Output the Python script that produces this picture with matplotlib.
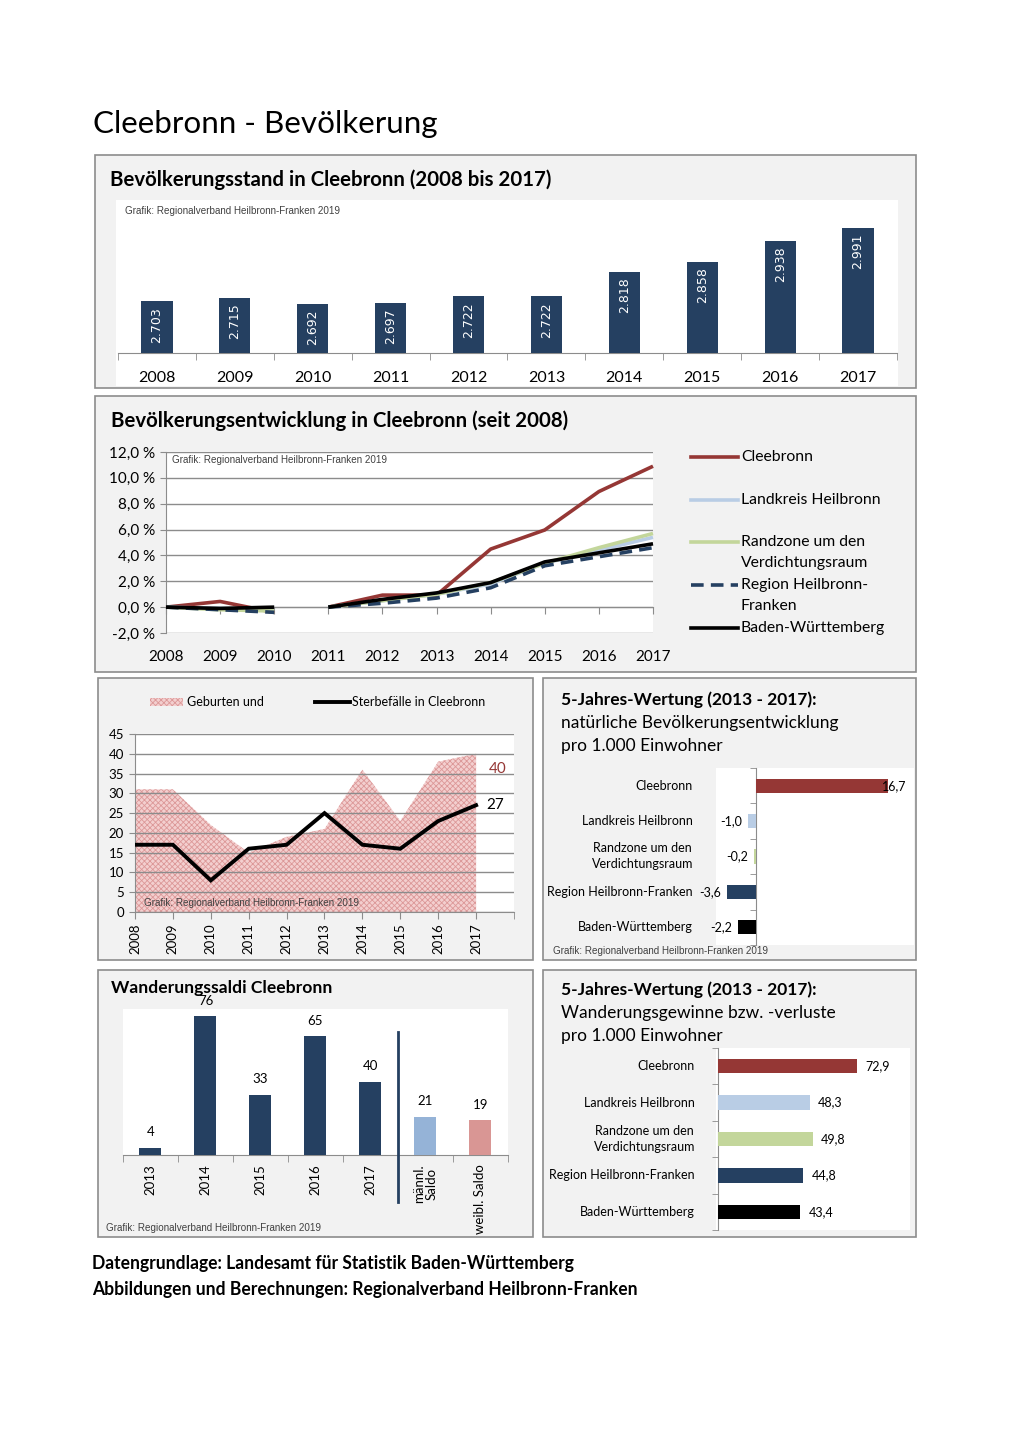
import matplotlib
matplotlib.use("Agg")
import matplotlib.pyplot as plt
import numpy as np
from matplotlib.patches import Rectangle
from matplotlib.transforms import blended_transform_factory as btf

# ---------------- data ----------------
years = [2008, 2009, 2010, 2011, 2012, 2013, 2014, 2015, 2016, 2017]
population = [2703, 2715, 2692, 2697, 2722, 2722, 2818, 2858, 2938, 2991]
pop_labels = ["2.703", "2.715", "2.692", "2.697", "2.722", "2.722", "2.818", "2.858", "2.938", "2.991"]

# development in % (2008-2010 relative to 2008, 2011-2017 relative to 2011)
dev_names = ["Cleebronn", "Landkreis Heilbronn", "Randzone um den\nVerdichtungsraum",
             "Region Heilbronn-\nFranken", "Baden-Württemberg"]
dev_cleebronn = [0.0, 0.44, -0.41, 0.0, 0.93, 0.93, 4.49, 5.97, 8.94, 10.90]
dev_landkreis = [0.0, -0.1, -0.2, 0.0, 0.5, 1.0, 1.8, 3.4, 4.4, 5.4]
dev_randzone = [0.0, -0.2, -0.3, 0.0, 0.5, 1.0, 1.9, 3.4, 4.6, 5.7]
dev_region = [0.0, -0.2, -0.4, 0.0, 0.3, 0.7, 1.5, 3.2, 3.9, 4.6]
dev_bw = [0.0, -0.1, 0.0, 0.0, 0.6, 1.1, 1.9, 3.5, 4.2, 4.9]

births = [31, 31, 22, 15, 19, 21, 36, 23, 38, 40]
deaths = [17, 17, 8, 16, 17, 25, 17, 16, 23, 27]

regions = ["Cleebronn", "Landkreis Heilbronn", "Randzone um den\nVerdichtungsraum",
           "Region Heilbronn-Franken", "Baden-Württemberg"]
natural_5y = [16.7, -1.0, -0.2, -3.6, -2.2]
migration_5y = [72.9, 48.3, 49.8, 44.8, 43.4]

wand_cats = ["2013", "2014", "2015", "2016", "2017", "männl.\nSaldo", "weibl. Saldo"]
wand_vals = [4, 76, 33, 65, 40, 21, 19]

# ---------------- style ----------------
RED = "#953735"
LBLUE = "#b9cde5"
GREEN = "#c3d69b"
NAVY = "#254061"
BLACK = "#000000"
MALE = "#95b3d7"
FEMALE = "#d99694"
GRID = "#8c8c8c"
PANEL = "#f2f2f2"
FONT = ["Lato", "DejaVu Sans"]
ARIAL = ["Liberation Sans", "DejaVu Sans"]
PINK_FACE = "#f3cfcf"
PINK_HATCH = "#dc9898"

W, H = 1020, 1443
fig = plt.figure(figsize=(W / 100, H / 100), dpi=100)
fig.patch.set_facecolor("white")
plt.rcParams['font.family'] = FONT
plt.rcParams['hatch.linewidth'] = 0.6


def ax_px(x0, y0, x1, y1, bg="white"):
    a = fig.add_axes([x0 / W, 1 - y1 / H, (x1 - x0) / W, (y1 - y0) / H])
    a.set_facecolor(bg)
    return a


def ftext(x, y, s, **kw):
    kw.setdefault("family", FONT)
    return fig.text(x / W, 1 - y / H, s, **kw)


def panel(x0, y0, x1, y1):
    fig.add_artist(Rectangle((x0 / W, 1 - y1 / H), (x1 - x0) / W, (y1 - y0) / H,
                             transform=fig.transFigure, facecolor=PANEL,
                             edgecolor="#8c8c8c", lw=1.2, zorder=-5))


def white(x0, y0, x1, y1):
    fig.add_artist(Rectangle((x0 / W, 1 - y1 / H), (x1 - x0) / W, (y1 - y0) / H,
                             transform=fig.transFigure, facecolor="white",
                             edgecolor="none", zorder=-4))


GSIZE = 7.1


def grafik(x, y):
    ftext(x, y, "Grafik: Regionalverband Heilbronn-Franken 2019", fontsize=GSIZE,
          family=ARIAL, color="#404040", va="center")


# ---------------- main title ----------------
ftext(93, 124, "Cleebronn - Bevölkerung", fontsize=22.6, va="center")

# ---------------- panel 1: population bars ----------------
panel(95, 155, 916, 388)
ftext(110, 180, "Bevölkerungsstand in Cleebronn (2008 bis 2017)", fontsize=14.7,
      weight="bold", va="center")
white(116, 200, 898, 386)
ax1 = ax_px(118, 200, 897, 353)
x = np.arange(len(years))
ax1.bar(x, population, width=0.4, color=NAVY, zorder=3)
ax1.set_xlim(-0.5, len(years) - 0.5)
ax1.set_ylim(2500, 3100)
for s in ["top", "right", "left"]:
    ax1.spines[s].set_visible(False)
ax1.spines["bottom"].set_color(GRID)
ax1.set_yticks([])
ax1.set_xticks(np.arange(-0.5, len(years)), minor=True)
ax1.tick_params(axis="x", which="minor", length=5, color=GRID)
ax1.set_xticks(x)
ax1.set_xticklabels([str(y) for y in years], fontsize=11.5)
ax1.tick_params(axis="x", which="major", length=0, pad=13)
for xi, v, lab in zip(x, population, pop_labels):
    ax1.annotate(lab, (xi, v), xytext=(0, -4), textcoords="offset points",
                 rotation=90, ha="center", va="top", color="white",
                 fontsize=9, family=["DejaVu Sans"], zorder=4)
grafik(125, 211)

# ---------------- panel 2: development lines ----------------
panel(95, 396, 916, 672)
ftext(111, 421, "Bevölkerungsentwicklung in Cleebronn (seit 2008)", fontsize=14.7,
      weight="bold", va="center")
ax2 = ax_px(166, 452, 653, 633)
ax2.set_xlim(0, 9)
ax2.set_ylim(-2, 12)
ax2.set_yticks(np.arange(-2, 13, 2))
ax2.set_yticklabels([f"{v:.1f} %".replace(".", ",") for v in np.arange(-2, 13, 2)],
                    fontsize=11)
ax2.grid(axis="y", color=GRID, lw=1, zorder=0)
for s in ["top", "right"]:
    ax2.spines[s].set_visible(False)
ax2.spines["left"].set_color(GRID)
ax2.spines["bottom"].set_position(("data", 0))
ax2.spines["bottom"].set_color(GRID)
ax2.tick_params(axis="y", length=4, color=GRID, pad=4)
ax2.set_xticks(x)
ax2.set_xticklabels([])
ax2.tick_params(axis="x", length=5, color=GRID)
for xi, yv in zip(x, years):
    ax2.annotate(str(yv), (xi, -2), xytext=(0, -12.5), textcoords="offset points",
                 ha="center", va="top", fontsize=11, annotation_clip=False)
series = [(dev_cleebronn, RED, "-"), (dev_landkreis, LBLUE, "-"),
          (dev_randzone, GREEN, "-"), (dev_region, NAVY, "--"), (dev_bw, BLACK, "-")]
for vals, col, ls in series:
    for seg in (slice(0, 3), slice(3, 10)):
        ln, = ax2.plot(x[seg], vals[seg], color=col, lw=2.6, ls=ls, zorder=3,
                       solid_capstyle="butt", clip_on=False)
        if ls == "--":
            ln.set_dashes((3.5, 2))
ax2.text(0.012, 0.955, "Grafik: Regionalverband Heilbronn-Franken 2019",
         transform=ax2.transAxes, fontsize=GSIZE, family=ARIAL, color="#404040", va="center")

# legend for panel 2
axl = ax_px(680, 445, 912, 645, bg="none")
axl.set_xlim(680, 912)
axl.set_ylim(645, 445)
axl.axis("off")
leg_y = [457, 500, 542, 585, 628]
leg_text_y = [457, 500, 552.5, 595.5, 628]
for (vals, col, ls), ly, ty, name in zip(series, leg_y, leg_text_y, dev_names):
    ln, = axl.plot([691, 738], [ly, ly], color=col, lw=2.6, ls=ls)
    if ls == "--":
        ln.set_dashes((3.5, 2))
    axl.text(741, ty, name, fontsize=11.3, va="center", linespacing=1.55)

# ---------------- panel 3: births / deaths ----------------
panel(98, 678, 533, 960)
ax3 = ax_px(135, 734, 514, 912)
ax3.set_xlim(0, 10)
ax3.set_ylim(0, 45)
ax3.fill_between(x, 0, births, facecolor=PINK_FACE, edgecolor=PINK_HATCH,
                 hatch="xxxxxx", lw=0, zorder=1)
ax3.plot(x, deaths, color=BLACK, lw=2.8, zorder=4, solid_joinstyle="miter")
ax3.set_yticks(np.arange(0, 46, 5))
ax3.set_yticklabels([str(v) for v in np.arange(0, 46, 5)], fontsize=9.5)
ax3.grid(axis="y", color=GRID, lw=1, zorder=2)
ax3.set_axisbelow(False)
for s in ["top", "right"]:
    ax3.spines[s].set_visible(False)
ax3.spines["left"].set_color(GRID)
ax3.spines["bottom"].set_color(GRID)
ax3.tick_params(axis="y", length=4, color=GRID, pad=4)
ax3.set_xticks(np.arange(0, 11), minor=True)
ax3.tick_params(axis="x", which="minor", length=5, color=GRID)
ax3.set_xticks(x)
ax3.set_xticklabels([str(y) for y in years], rotation=90, fontsize=9.5)
ax3.tick_params(axis="x", which="major", length=5, color=GRID, pad=3)
ax3.annotate(str(births[-1]), (x[-1], births[-1]), xytext=(9, -11),
             textcoords="offset points", color=RED, fontsize=11, va="center", ha="left")
ax3.annotate(str(deaths[-1]), (x[-1], deaths[-1]), xytext=(7, 0),
             textcoords="offset points", color=BLACK, fontsize=11, va="center", ha="left")
ax3.text(0.025, 0.048, "Grafik: Regionalverband Heilbronn-Franken 2019",
         transform=ax3.transAxes, fontsize=GSIZE, family=ARIAL, color="#404040",
         va="center", zorder=5)
# legend
axl3 = ax_px(140, 690, 530, 715, bg="none")
axl3.set_xlim(140, 530)
axl3.set_ylim(715, 690)
axl3.axis("off")
axl3.add_patch(Rectangle((150, 698), 33, 8, facecolor=PINK_FACE, edgecolor=PINK_HATCH,
                         hatch="xxxxxx", lw=0))
axl3.text(187, 702, "Geburten und", fontsize=9, va="center")
axl3.plot([315, 350], [702, 702], color=BLACK, lw=2.8)
axl3.text(352, 702, "Sterbefälle in Cleebronn", fontsize=9, va="center")

# ---------------- panel 4: natural development 5y ----------------
panel(543, 678, 916, 960)
ftext(561, 700, "5-Jahres-Wertung (2013 - 2017):", fontsize=12.5, weight="bold", va="center")
ftext(561, 723, "natürliche Bevölkerungsentwicklung", fontsize=12.5, va="center")
ftext(561, 746, "pro 1.000 Einwohner", fontsize=12.5, va="center")
bar_cols = [RED, LBLUE, GREEN, NAVY, BLACK]


def hbar(ax, vals, labels, xlim, labx, neg_off=-6, pos_off=-5):
    yy = np.arange(len(vals))
    ax.barh(yy, vals, height=0.4, color=bar_cols, zorder=3)
    ax.set_xlim(*xlim)
    ax.set_ylim(len(vals) - 0.5, -0.5)
    for s in ["top", "right", "bottom"]:
        ax.spines[s].set_visible(False)
    ax.spines["left"].set_position(("data", 0))
    ax.spines["left"].set_color(GRID)
    ax.set_xticks([])
    ax.set_yticks(np.arange(-0.5, len(vals)), minor=True)
    ax.set_yticks([])
    ax.tick_params(axis="y", which="minor", length=4, color=GRID)
    tr = btf(ax.transAxes, ax.transData)
    for yi, lab in zip(yy, labels):
        ax.text(labx, yi, lab, transform=tr, ha="right", va="center",
                multialignment="center", fontsize=9, linespacing=1.4)
    for yi, v in zip(yy, vals):
        s = f"{v:.1f}".replace(".", ",")
        if v >= 0:
            ax.annotate(s, (v, yi), xytext=(pos_off, 0), textcoords="offset points",
                        ha="left", va="center", fontsize=9, zorder=5)
        else:
            ax.annotate(s, (v, yi), xytext=(neg_off, 0), textcoords="offset points",
                        ha="right", va="center", fontsize=9, zorder=5)


ax4 = ax_px(716, 768, 914, 945)
hbar(ax4, natural_5y, regions, (-5, 20), -0.116, neg_off=-4, pos_off=-4)
grafik(553, 951)

# ---------------- panel 5: Wanderungssaldi ----------------
panel(98, 970, 533, 1237)
ax5 = ax_px(123, 1009, 508, 1155)
xc = np.arange(len(wand_vals))
ax5.bar(xc, wand_vals, width=0.4, color=[NAVY] * 5 + [MALE, FEMALE], zorder=3)
ax5.set_xlim(-0.5, len(wand_vals) - 0.5)
ax5.set_ylim(0, 80)
for s in ["top", "right", "left"]:
    ax5.spines[s].set_visible(False)
ax5.spines["bottom"].set_color(GRID)
ax5.set_yticks([])
ax5.set_xticks(np.arange(-0.5, len(wand_vals)), minor=True)
ax5.tick_params(axis="x", which="minor", length=5, color=GRID)
ax5.set_xticks(xc)
ax5.set_xticklabels(wand_cats, rotation=90, fontsize=9.5, va="top", linespacing=1.1)
ax5.tick_params(axis="x", which="major", length=0, pad=7)
for xi, v in zip(xc, wand_vals):
    ax5.annotate(str(v), (xi, v), xytext=(0, 7), textcoords="offset points",
                 ha="center", va="bottom", fontsize=9.5, zorder=5, annotation_clip=False)
ax5.axvline(4.5, ymin=-0.32, ymax=0.84, color=NAVY, lw=2, clip_on=False, zorder=4)
ftext(111, 988, "Wanderungssaldi Cleebronn", fontsize=12.6, weight="bold", va="center")
grafik(106, 1228)

# ---------------- panel 6: migration 5y ----------------
panel(543, 970, 916, 1237)
ftext(561, 990, "5-Jahres-Wertung (2013 - 2017):", fontsize=12.5, weight="bold", va="center")
ftext(561, 1013, "Wanderungsgewinne bzw. -verluste", fontsize=12.5, va="center")
ftext(561, 1036, "pro 1.000 Einwohner", fontsize=12.5, va="center")
ax6 = ax_px(716, 1048, 910, 1230)
hbar(ax6, migration_5y, regions, (-1, 101), -0.108, pos_off=6)

# ---------------- footer ----------------
ftext(92, 1264, "Datengrundlage: Landesamt für Statistik Baden-Württemberg",
      fontsize=12.65, weight="bold", va="center")
ftext(92, 1289, "Abbildungen und Berechnungen: Regionalverband Heilbronn-Franken",
      fontsize=12.65, weight="bold", va="center")

fig.savefig("out.png", dpi=100)
